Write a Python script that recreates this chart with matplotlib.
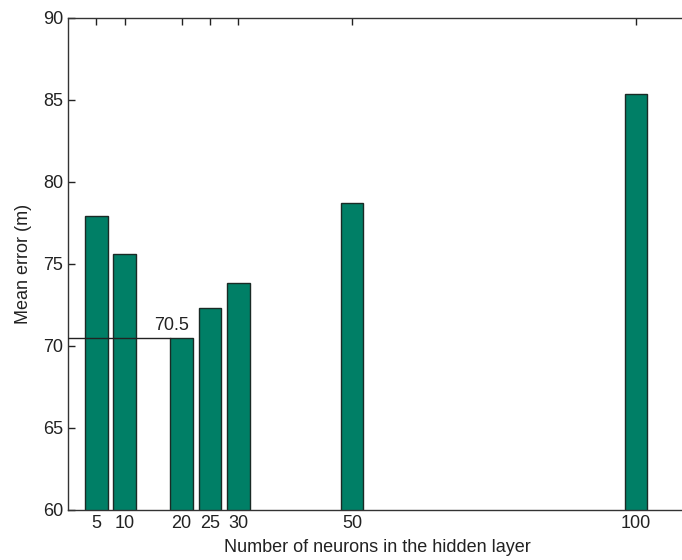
import numpy as np
import matplotlib.pyplot as plt

plt.rcParams['font.family'] = ['Liberation Sans', 'DejaVu Sans']

neurons = [5, 10, 20, 25, 30, 50, 100]
mean_err = [77.9, 75.6, 70.5, 72.3, 73.85, 78.7, 85.35]
best = 70.5

fig = plt.figure(figsize=(6.82, 5.6), dpi=100)
ax = fig.add_axes([0.0997, 0.0893, 0.916, 0.8786])

ax.bar(neurons, mean_err, width=4, bottom=0, color='#007f66',
       edgecolor='#1a2a25', linewidth=1.0, zorder=2)

# best value marker
ax.plot([0, 18], [best, best], color='#222222', lw=1.0, zorder=3)
ax.text(18.2, best + 0.25, '70.5', ha='center', va='bottom',
        fontsize=13, color='#222222')

ax.set_xlim(0, 110)
ax.set_ylim(60, 90)
ax.set_xticks(neurons)
ax.set_yticks(np.arange(60, 91, 5))
ax.tick_params(direction='in', top=True, right=False, length=5,
               labelsize=13, colors='#222222', width=1.0)
ax.spines['right'].set_visible(False)
for s in ax.spines.values():
    s.set_color('#333333')
    s.set_linewidth(1.0)

ax.set_xlabel('Number of neurons in the hidden layer', fontsize=13, color='#222222')
ax.set_ylabel('Mean error (m)', fontsize=13, color='#222222')
ax.xaxis.set_label_coords(0.495, -0.058)
ax.yaxis.set_label_coords(-0.058, 0.5)

fig.savefig('out.png', dpi=100)
